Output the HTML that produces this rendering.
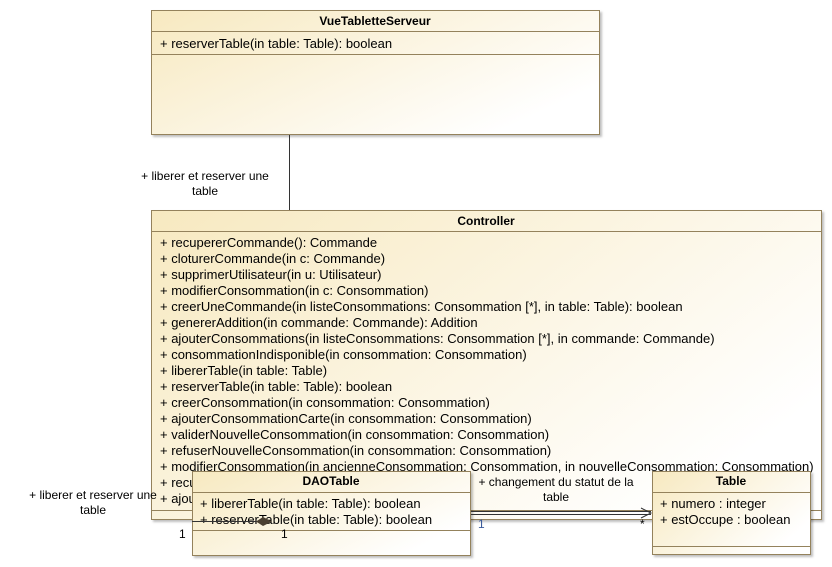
<!DOCTYPE html>
<html><head><meta charset="utf-8"><style>html,body{margin:0;padding:0;background:#fff}svg{display:block}</style></head>
<body>
<svg width="832" height="567" xmlns="http://www.w3.org/2000/svg" font-family="Liberation Sans, sans-serif" font-size="13" fill="#000">
<defs>
<linearGradient id="g" x1="0" y1="0" x2="1" y2="0.6">
<stop offset="0" stop-color="#f7e9c0"/><stop offset="1" stop-color="#ffffff"/>
</linearGradient>
<filter id="s" x="-5%" y="-5%" width="110%" height="110%"><feDropShadow dx="2" dy="2" stdDeviation="1" flood-color="#000" flood-opacity="0.25"/></filter>
</defs>
<g stroke="#94825c" stroke-width="1">
<rect x="151.5" y="10.5" width="448" height="124" fill="url(#g)" filter="url(#s)"/>
<line x1="151" y1="31.5" x2="599" y2="31.5"/>
<line x1="151" y1="54.5" x2="599" y2="54.5"/>
<rect x="151.5" y="210.5" width="670" height="309" fill="url(#g)" filter="url(#s)"/>
<line x1="151" y1="231.5" x2="821" y2="231.5"/>
<line x1="151" y1="510.5" x2="821" y2="510.5"/>
</g>
<line x1="289.5" y1="135" x2="289.5" y2="210" stroke="#333"/>
<g>
<text x="375" y="25" text-anchor="middle" font-weight="bold" font-size="12">VueTabletteServeur</text>
<text x="160" y="48">+ reserverTable(in table: Table): boolean</text>
<text x="205" y="180" text-anchor="middle" font-size="12">+ liberer et reserver une</text>
<text x="205" y="195" text-anchor="middle" font-size="12">table</text>
<text x="486" y="225" text-anchor="middle" font-weight="bold" font-size="12">Controller</text>
<text x="160" y="247">+ recupererCommande(): Commande</text>
<text x="160" y="263">+ cloturerCommande(in c: Commande)</text>
<text x="160" y="279">+ supprimerUtilisateur(in u: Utilisateur)</text>
<text x="160" y="295">+ modifierConsommation(in c: Consommation)</text>
<text x="160" y="311">+ creerUneCommande(in listeConsommations: Consommation [*], in table: Table): boolean</text>
<text x="160" y="327">+ genererAddition(in commande: Commande): Addition</text>
<text x="160" y="343">+ ajouterConsommations(in listeConsommations: Consommation [*], in commande: Commande)</text>
<text x="160" y="359">+ consommationIndisponible(in consommation: Consommation)</text>
<text x="160" y="375">+ libererTable(in table: Table)</text>
<text x="160" y="391">+ reserverTable(in table: Table): boolean</text>
<text x="160" y="407">+ creerConsommation(in consommation: Consommation)</text>
<text x="160" y="423">+ ajouterConsommationCarte(in consommation: Consommation)</text>
<text x="160" y="439">+ validerNouvelleConsommation(in consommation: Consommation)</text>
<text x="160" y="455">+ refuserNouvelleConsommation(in consommation: Consommation)</text>
<text x="160" y="471">+ modifierConsommation(in ancienneConsommation: Consommation, in nouvelleConsommation: Consommation)</text>
<text x="160" y="487">+ recupererTable</text>
<text x="160" y="503">+ ajouterTable</text>
</g>
<g stroke="#94825c" stroke-width="1">
<rect x="192.5" y="471.5" width="278" height="84" fill="url(#g)" filter="url(#s)"/>
<line x1="192" y1="492.5" x2="470" y2="492.5"/>
<line x1="192" y1="530.5" x2="470" y2="530.5"/>
<rect x="652.5" y="471.5" width="158" height="83" fill="url(#g)" filter="url(#s)"/>
<line x1="652" y1="492.5" x2="810" y2="492.5"/>
<line x1="652" y1="546.5" x2="810" y2="546.5"/>
</g>
<g>
<text x="331" y="485" text-anchor="middle" font-weight="bold" font-size="12">DAOTable</text>
<text x="200" y="508">+ libererTable(in table: Table): boolean</text>
<text x="200" y="524">+ reserverTable(in table: Table): boolean</text>
<text x="731" y="485" text-anchor="middle" font-weight="bold" font-size="12">Table</text>
<text x="660" y="508">+ numero : integer</text>
<text x="660" y="524">+ estOccupe : boolean</text>
<text x="93" y="499" text-anchor="middle" font-size="12">+ liberer et reserver une</text>
<text x="93" y="514" text-anchor="middle" font-size="12">table</text>
<text x="556" y="486" text-anchor="middle" font-size="12">+ changement du statut de la</text>
<text x="556" y="501" text-anchor="middle" font-size="12">table</text>
<text x="179" y="538" font-size="12">1</text>
<text x="281" y="538" font-size="12">1</text>
<text x="478" y="528" fill="#3a5a9a" font-size="12">1</text>
<text x="640" y="528" font-size="12">*</text>
</g>
<line x1="192" y1="521.5" x2="258" y2="521.5" stroke="#333"/>
<polygon points="256,521.5 263,517 272,521.5 263,526" fill="#4a3f30"/>
<line x1="471" y1="511.5" x2="651" y2="511.5" stroke="#333"/>
<line x1="471" y1="514.5" x2="651" y2="514.5" stroke="#333"/>
<polyline points="641,508 651,513 641,518" fill="none" stroke="#333"/>
</svg>
</body></html>
